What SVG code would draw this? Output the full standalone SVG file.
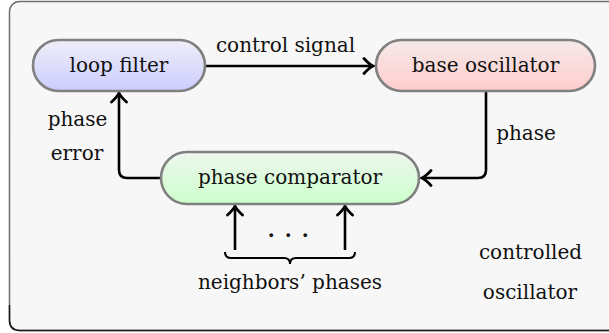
<svg xmlns="http://www.w3.org/2000/svg" width="609" height="333" viewBox="0 0 609 333">
<style>
text{font-family:'DejaVu Serif',serif;font-size:20px;fill:#111;}
.c{text-anchor:middle;}
.node{stroke:#808080;stroke-width:2.6;}
.conn{fill:none;stroke:#000;stroke-width:2.6;stroke-linejoin:round;}
</style>
<defs>
<linearGradient id="gb" x1="0" y1="0" x2="0" y2="1"><stop offset="0" stop-color="#efeff8"/><stop offset="1" stop-color="#ccccff"/></linearGradient>
<linearGradient id="gr" x1="0" y1="0" x2="0" y2="1"><stop offset="0" stop-color="#f6eaea"/><stop offset="1" stop-color="#ffcccc"/></linearGradient>
<linearGradient id="gg" x1="0" y1="0" x2="0" y2="1"><stop offset="0" stop-color="#eef6ee"/><stop offset="1" stop-color="#ccffcc"/></linearGradient>
<marker id="arr" markerUnits="userSpaceOnUse" viewBox="-12 -9 14 18" refX="0" refY="0" markerWidth="14" markerHeight="18" orient="auto">
<path d="M-9,-7.5 Q-3.5,-1.5 0,0 Q-3.5,1.5 -9,7.5" fill="none" stroke="#000" stroke-width="2.8" stroke-linecap="round"/>
</marker>
</defs>
<g id="frame">
<rect x="9.5" y="1.5" width="620" height="329" rx="10" fill="#f7f7f7" stroke="#6e6e6e" stroke-width="1.5"/>
<path d="M9.5,305 V320.5 Q9.5,330.5 19.5,330.5 H609" fill="none" stroke="#1a1a1a" stroke-width="1.5"/>
</g>
<g id="connectors">
<path class="conn" d="M205,66 H373" marker-end="url(#arr)"/>
<path class="conn" d="M486,91 V170 Q486,178 478,178 H422" marker-end="url(#arr)"/>
<path class="conn" d="M161,178 H127 Q119,178 119,170 V93" marker-end="url(#arr)"/>
<path class="conn" d="M235,250 V206" marker-end="url(#arr)"/>
<path class="conn" d="M345,250 V206" marker-end="url(#arr)"/>
<path d="M225,252 Q225,258 231,258 H284 Q290,258 290,264 Q290,258 296,258 H349 Q355,258 355,252" fill="none" stroke="#000" stroke-width="2"/>
</g>
<g id="loop-filter">
<rect class="node" x="33" y="40" width="172" height="51" rx="25.5" fill="url(#gb)"/>
<text class="c" x="119" y="72">loop filter</text>
</g>
<g id="base-oscillator">
<rect class="node" x="376" y="40" width="219" height="51" rx="25.5" fill="url(#gr)"/>
<text class="c" x="485.5" y="72">base oscillator</text>
</g>
<g id="phase-comparator">
<rect class="node" x="161" y="152" width="258" height="52" rx="26" fill="url(#gg)"/>
<text class="c" x="290" y="184">phase comparator</text>
</g>
<g id="labels">
<text class="c" x="285.5" y="52">control signal</text>
<text class="c" x="526" y="140">phase</text>
<text class="c" x="77.5" y="126">phase</text>
<text class="c" x="77" y="160">error</text>
<text class="c" x="289" y="237" letter-spacing="1.5" xml:space="preserve" font-weight="bold">. . .</text>
<text class="c" x="290" y="289">neighbors’ phases</text>
<text class="c" x="530.5" y="259">controlled</text>
<text class="c" x="530" y="299">oscillator</text>
</g>
</svg>
